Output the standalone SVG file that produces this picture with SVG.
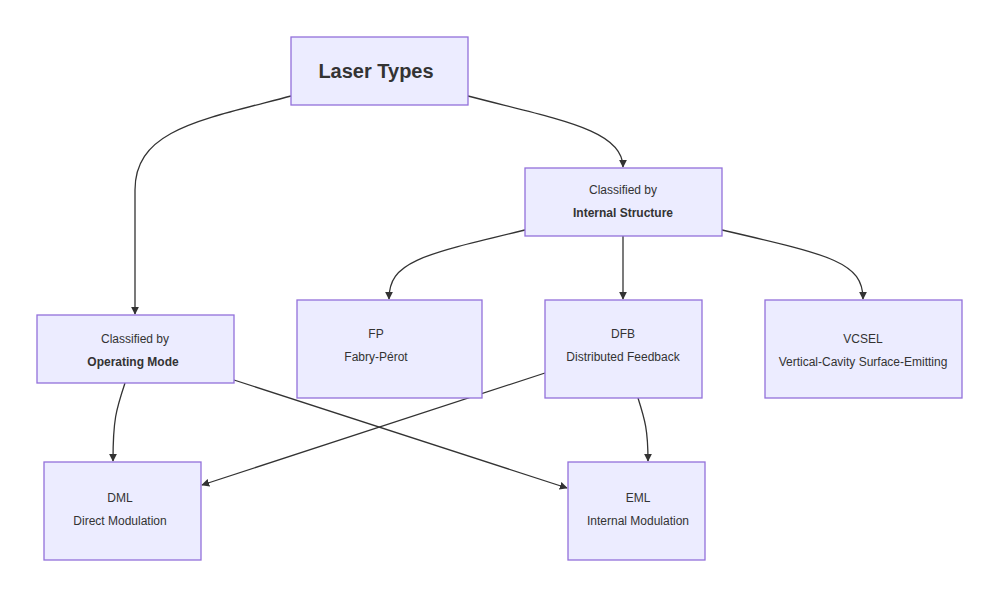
<svg xmlns="http://www.w3.org/2000/svg" width="1000" height="598" viewBox="0 0 1000 598">
<style>
.n{fill:#ECECFF;stroke:#9370DB;stroke-width:1.3}
.t{font-family:"Liberation Sans",Arial,sans-serif;font-size:12px;fill:#333;text-anchor:middle}
.b{font-weight:bold}
.e{fill:none;stroke:#333;stroke-width:1.3;marker-end:url(#a)}
</style>
<defs><marker id="a" viewBox="0 0 10 10" refX="9" refY="5" markerWidth="8" markerHeight="8" orient="auto" markerUnits="userSpaceOnUse"><path d="M0,0L10,5L0,10z" fill="#333"/></marker></defs>
<rect width="1000" height="598" fill="#fff"/>
<g id="edges">
<path class="e" d="M291,96 C200,120 135,130 135,190 L135,314"/>
<path class="e" d="M468,96 C560,120 623,130 623,167"/>
<path class="e" d="M525,230 C420,255 389,262 389,299"/>
<path class="e" d="M623,236 L623,299"/>
<path class="e" d="M722,230 C830,255 863,262 863,299"/>
<path class="e" d="M125,383 C116,410 113,420 113,461"/>
<path class="e" d="M234,380 L567,488"/>
<path class="e" d="M545,373 L202,485"/>
<path class="e" d="M638,398 C645,420 648,430 648,461"/>
</g>
<g id="laser"><rect class="n" x="291" y="37" width="177" height="68"/><text class="t b" x="376" y="78" style="font-size:20px">Laser Types</text></g>
<g id="internal"><rect class="n" x="525" y="168" width="197" height="68"/><text class="t" x="623" y="194">Classified by</text><text class="t b" x="623" y="217">Internal Structure</text></g>
<g id="operating"><rect class="n" x="37" y="315" width="197" height="68"/><text class="t" x="135" y="343">Classified by</text><text class="t b" x="133" y="366">Operating Mode</text></g>
<g id="fp"><rect class="n" x="297" y="300" width="185" height="98"/><text class="t" x="376" y="338">FP</text><text class="t" x="376" y="361">Fabry-Pérot</text></g>
<g id="dfb"><rect class="n" x="545" y="300" width="157" height="98"/><text class="t" x="623" y="338">DFB</text><text class="t" x="623" y="361">Distributed Feedback</text></g>
<g id="vcsel"><rect class="n" x="765" y="300" width="197" height="98"/><text class="t" x="863" y="343">VCSEL</text><text class="t" x="863" y="366">Vertical-Cavity Surface-Emitting</text></g>
<g id="dml"><rect class="n" x="44" y="462" width="157" height="98"/><text class="t" x="120" y="502">DML</text><text class="t" x="120" y="525">Direct Modulation</text></g>
<g id="eml"><rect class="n" x="568" y="462" width="137" height="98"/><text class="t" x="638" y="502">EML</text><text class="t" x="638" y="525">Internal Modulation</text></g>
</svg>
